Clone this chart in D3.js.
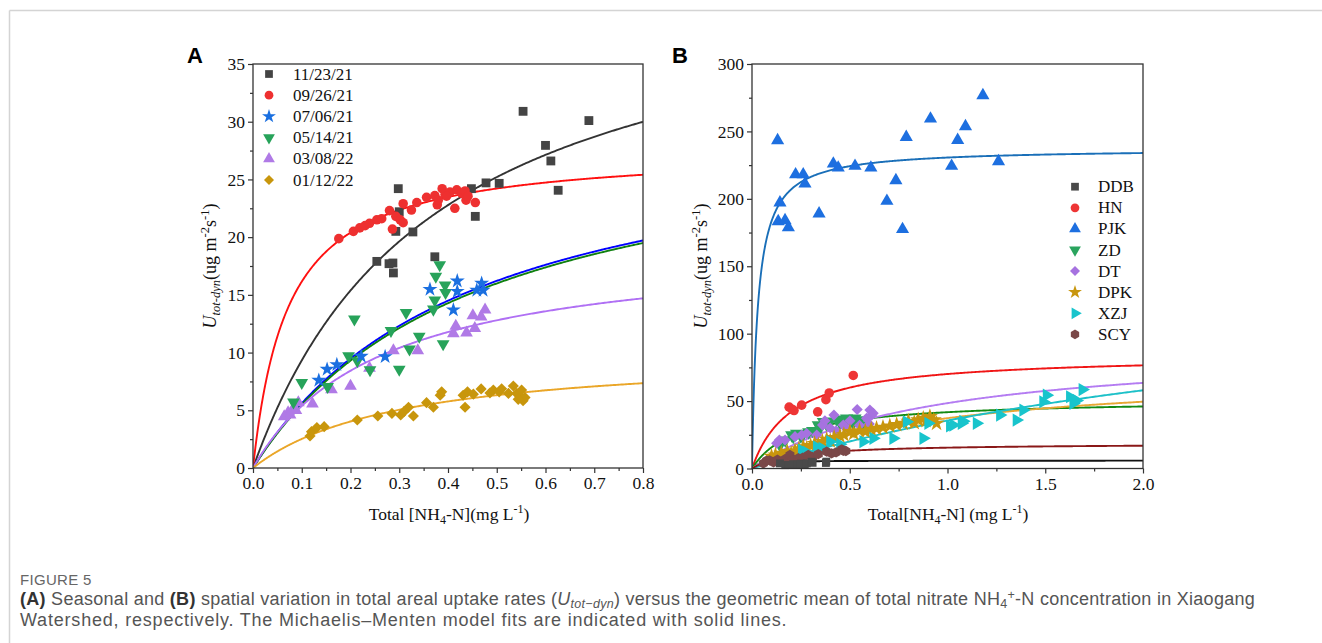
<!DOCTYPE html>
<html><head><meta charset="utf-8">
<script src="https://cdn.jsdelivr.net/npm/d3@7/dist/d3.min.js"></script>
<style>
html,body{margin:0;padding:0;background:#fff;}
svg{display:block;}
</style></head>
<body>
<svg id="chart" width="1322" height="643"></svg>
<script>
// ---------------- DATA ----------------
// Panel A: seasonal (x = total NH4-N mg/L, y = U tot-dyn)
const seasonNames = ["11/23/21","09/26/21","07/06/21","05/14/21","03/08/22","01/12/22"];
const s1123 = [[0.554,30.9],[0.689,30.1],[0.600,27.95],[0.611,26.6],[0.626,24.06],[0.505,24.66],[0.478,24.7],[0.448,24.2],[0.456,21.8],[0.298,24.2],[0.300,22.2],[0.293,20.5],[0.328,20.45],[0.254,17.9],[0.279,17.7],[0.287,17.76],[0.288,16.9],[0.373,18.3]];
const s0926 = [[0.176,19.87],[0.206,20.5],[0.219,20.8],[0.230,21.0],[0.239,21.2],[0.254,21.5],[0.264,21.6],[0.280,22.3],[0.286,20.7],[0.293,21.8],[0.302,21.5],[0.308,21.25],[0.308,22.9],[0.325,22.35],[0.336,23.0],[0.356,23.45],[0.373,23.6],[0.378,22.8],[0.388,24.2],[0.394,23.7],[0.404,23.9],[0.414,22.5],[0.418,24.1],[0.428,23.8],[0.435,24.0],[0.437,23.2],[0.441,23.55],[0.456,23.0],[0.397,23.55],[0.380,23.2]];
const s0706 = [[0.363,15.48],[0.419,16.2],[0.419,15.3],[0.411,13.7],[0.469,16.0],[0.459,15.4],[0.472,15.4],[0.135,7.6],[0.152,8.55],[0.172,8.95],[0.222,9.68],[0.271,9.65]];
const s0514 = [[0.383,17.6],[0.375,16.6],[0.394,15.85],[0.395,15.2],[0.373,14.55],[0.370,13.75],[0.314,13.45],[0.208,12.9],[0.283,11.9],[0.341,11.4],[0.390,10.75],[0.321,10.3],[0.300,8.55],[0.196,9.7],[0.214,9.27],[0.240,8.5],[0.100,7.4],[0.153,7.05],[0.083,5.7]];
const s0308 = [[0.476,13.7],[0.468,13.1],[0.451,13.2],[0.416,12.3],[0.455,12.1],[0.438,11.7],[0.411,11.65],[0.338,10.17],[0.288,10.17],[0.239,8.66],[0.200,7.1],[0.161,6.8],[0.122,5.55],[0.093,5.66],[0.083,5.2],[0.072,4.8],[0.064,4.45],[0.088,5.0],[0.076,4.6]];
const s0112 = [[0.117,2.77],[0.120,3.15],[0.131,3.5],[0.146,3.58],[0.214,4.16],[0.256,4.5],[0.285,4.73],[0.303,4.6],[0.319,5.26],[0.310,4.9],[0.329,4.5],[0.356,5.66],[0.370,5.26],[0.384,6.3],[0.387,6.6],[0.431,6.3],[0.435,5.26],[0.440,6.6],[0.452,6.4],[0.468,6.85],[0.486,6.5],[0.493,6.75],[0.505,6.6],[0.510,6.87],[0.524,6.46],[0.534,7.1],[0.541,6.46],[0.548,6.2],[0.551,6.75],[0.554,5.83],[0.558,6.1],[0.544,5.95]];
// Michaelis-Menten fit parameters [Umax, K] per season
const seasonFits = [[43.9,0.371],[27.67,0.0714],[30.8,0.45],[30.7,0.46],[19.55,0.264],[10.12,0.302]];

// Panel B: spatial
const siteNames = ["DDB","HN","PJK","ZD","DT","DPK","XZJ","SCY"];
const sDDB = [[0.143,3.8],[0.170,2.5],[0.186,2.6],[0.210,3.2],[0.230,2.8],[0.250,3.6],[0.270,3.0],[0.280,3.8],[0.305,5.0],[0.310,4.2],[0.378,4.1],[0.380,5.1]];
const sHN = [[0.190,45.5],[0.205,44],[0.215,43],[0.254,47],[0.336,42],[0.378,51],[0.395,56],[0.518,69]];
const sPJK = [[0.131,243.3],[0.143,197.2],[0.134,183.3],[0.169,184],[0.186,178.7],[0.223,218],[0.262,218],[0.271,211.2],[0.343,189],[0.416,226],[0.441,223],[0.527,224.3],[0.608,223],[0.690,198.4],[0.736,213.7],[0.770,177.4],[0.789,245.8],[0.913,259.4],[1.021,224.3],[1.052,243.5],[1.092,253.7],[1.181,276.7],[1.261,227.8]];
const sZD = [[0.143,17.4],[0.170,21],[0.203,24.8],[0.211,23.6],[0.228,26],[0.250,24],[0.262,25.5],[0.290,27],[0.310,28],[0.339,32.2],[0.348,30],[0.365,34.7],[0.380,33],[0.400,35],[0.433,36.4],[0.450,34],[0.470,35.5],[0.484,37.2],[0.501,36],[0.518,33.5],[0.527,37.2],[0.550,36],[0.569,32.2]];
const sDT = [[0.126,18.7],[0.140,21.1],[0.169,21.1],[0.220,23.6],[0.254,24.8],[0.280,26],[0.331,24.8],[0.361,32.2],[0.373,35.4],[0.400,30],[0.419,39.6],[0.430,28],[0.467,32.2],[0.480,30],[0.501,35.4],[0.538,43.8],[0.550,32],[0.586,37.2],[0.600,33],[0.603,43.3],[0.612,39.6],[0.620,41]];
const sDPK = [[0.100,9],[0.120,10],[0.150,11.2],[0.180,12.5],[0.200,11],[0.220,13],[0.240,14.5],[0.262,16.1],[0.280,15],[0.300,17],[0.320,18.5],[0.340,17.5],[0.360,20],[0.382,21.6],[0.400,20.5],[0.420,23],[0.450,24],[0.470,25],[0.501,27.3],[0.520,26],[0.550,28],[0.580,27.5],[0.610,29],[0.637,29.7],[0.670,30.5],[0.705,31.5],[0.740,32.5],[0.774,33.5],[0.800,35],[0.830,34],[0.850,36],[0.876,37.2],[0.890,35.5],[0.910,38.4],[0.930,36],[0.944,33.5]];
const sXZJ = [[0.254,13.7],[0.280,12],[0.331,16.1],[0.360,15],[0.399,19.9],[0.450,18],[0.569,19.9],[0.620,22.4],[0.722,22.4],[0.791,34.7],[0.876,22.4],[0.901,33.5],[1.012,31.5],[1.029,32.2],[1.072,33.5],[1.080,35],[1.149,33.5],[1.268,39.6],[1.353,35.9],[1.387,43.3],[1.489,49.5],[1.507,54.4],[1.626,53.2],[1.643,48.3],[1.660,50.5],[1.690,58.5]];
const sSCY = [[0.058,3.8],[0.075,5.8],[0.090,6],[0.110,4.5],[0.130,6.5],[0.150,5],[0.170,7],[0.194,10],[0.210,6.5],[0.237,7.6],[0.260,8],[0.288,10],[0.310,8.5],[0.339,10.7],[0.382,12.5],[0.407,11.2],[0.430,12],[0.459,14.2],[0.467,13.2],[0.480,13]];
const siteFits = [[5.9,0.03],[84.2,0.2017],[237.4,0.0294],[51.2,0.226],[92,0.898],[73.6,0.972],[156.9,3.41],[18.64,0.206]];

// ticks
const xTicksA = [0,0.1,0.2,0.3,0.4,0.5,0.6,0.7,0.8];
const yTicksA = [0,5,10,15,20,25,30,35];
const xTicksB = [0,0.5,1.0,1.5,2.0];
const yTicksB = [0,50,100,150,200,250,300];

// ---------------- DRAW ----------------
const svg = d3.select("#chart");
const serif = "'Liberation Serif','Times New Roman',serif";

// page frame
svg.append("line").attr("x1",9.5).attr("x2",1322).attr("y1",10.5).attr("y2",10.5).attr("stroke","#d4d4d4").attr("stroke-width",1.5);
svg.append("line").attr("x1",9.5).attr("x2",9.5).attr("y1",10.5).attr("y2",643).attr("stroke","#d4d4d4").attr("stroke-width",1.5);

const hexType = {draw(ctx,size){const r=Math.sqrt(size/(1.5*Math.sqrt(3)));for(let i=0;i<6;i++){const a=Math.PI/3*i+Math.PI/6;const x=r*Math.cos(a),y=r*Math.sin(a);if(i===0)ctx.moveTo(x,y);else ctx.lineTo(x,y);}ctx.closePath();}};

function marker(g, kind, size, color, x, y){
  let type, rot=0;
  if(kind==="square") type=d3.symbolSquare;
  else if(kind==="circle") type=d3.symbolCircle;
  else if(kind==="star") type=d3.symbolStar;
  else if(kind==="tri") type=d3.symbolTriangle;
  else if(kind==="tridown"){type=d3.symbolTriangle;rot=180;}
  else if(kind==="triright"){type=d3.symbolTriangle;rot=90;}
  else if(kind==="diamond"){type=d3.symbolSquare;rot=45;}
  else if(kind==="hex") type=hexType;
  g.append("path").attr("d",d3.symbol().type(type).size(size)())
    .attr("transform",`translate(${x},${y}) rotate(${rot})`).attr("fill",color);
}

function panel(opt){
  const {x0,x1,y0,y1,xdom,ydom,xticks,yticks,xminor,yminor,xfmt,yfmt} = opt;
  const x = d3.scaleLinear().domain(xdom).range([x0,x1]);
  const y = d3.scaleLinear().domain(ydom).range([y0,y1]);
  const g = svg.append("g");
  const clipId = "clip"+opt.id;
  svg.append("clipPath").attr("id",clipId).append("rect").attr("x",x0).attr("y",y1).attr("width",x1-x0).attr("height",y0-y1);
  const cg = g.append("g").attr("clip-path",`url(#${clipId})`);
  const xs = d3.range(0,401).map(i=>xdom[0]+(xdom[1]-xdom[0])*Math.pow(i/400,1.6));
  opt.series.forEach(s=>{
    const [um,k]=s.fit;
    cg.append("path").attr("d",d3.line().x(v=>x(v)).y(v=>y(um*v/(k+v)))(xs))
      .attr("fill","none").attr("stroke",s.line).attr("stroke-width",s.lw||2);
  });
  const pg = g.append("g");
  opt.pointOrder.forEach(i=>{
    const s=opt.series[i];
    s.data.forEach(d=>marker(pg,s.kind,s.size,s.color,x(d[0]),y(d[1])));
  });
  const ax = g.append("g").attr("transform",`translate(0,${y0})`)
    .call(d3.axisBottom(x).tickValues(xticks).tickFormat(xfmt).tickSize(5).tickPadding(4));
  const axm = g.append("g").attr("transform",`translate(0,${y0})`)
    .call(d3.axisBottom(x).tickValues(xminor).tickFormat("").tickSize(3));
  const ay = g.append("g").attr("transform",`translate(${x0},0)`)
    .call(d3.axisLeft(y).tickValues(yticks).tickFormat(yfmt).tickSize(5).tickPadding(3));
  const aym = g.append("g").attr("transform",`translate(${x0},0)`)
    .call(d3.axisLeft(y).tickValues(yminor).tickFormat("").tickSize(3));
  [ax,axm,ay,aym].forEach(a=>{
    a.select(".domain").remove();
    a.selectAll("line").attr("stroke","#333").attr("stroke-width",1.2);
    a.selectAll("text").attr("font-family",serif).attr("font-size",17.5).attr("fill","#111");
  });
  g.append("rect").attr("x",x0).attr("y",y1).attr("width",x1-x0).attr("height",y0-y1)
    .attr("fill","none").attr("stroke","#333").attr("stroke-width",1.3);
  return {x,y,g};
}

// ---- Panel A ----
const seasonStyles = [
  {kind:"square",size:78,color:"#444444",line:"#333333"},
  {kind:"circle",size:72,color:"#ee3030",line:"#ff1010"},
  {kind:"star",size:70,color:"#1a6fe0",line:"#0000ff"},
  {kind:"tridown",size:70,color:"#27a35a",line:"#108010"},
  {kind:"tri",size:70,color:"#b07ae6",line:"#b070f4"},
  {kind:"diamond",size:62,color:"#c8960c",line:"#eaa628"}
];
const seasonData = [s1123,s0926,s0706,s0514,s0308,s0112];
const seriesA = seasonStyles.map((s,i)=>Object.assign({},s,{data:seasonData[i],fit:seasonFits[i],lw:1.9}));
const fmt1 = d3.format(".1f");
const A = panel({id:"A",x0:253,x1:643,y0:468,y1:64,xdom:[0,0.8],ydom:[0,35],
  xticks:xTicksA,yticks:yTicksA,xminor:d3.range(0.05,0.8,0.1),yminor:d3.range(2.5,35,5),
  xfmt:fmt1,yfmt:d3.format("d"),series:seriesA,pointOrder:[0,1,4,3,2,5]});

const legA = svg.append("g");
seasonNames.forEach((n,i)=>{
  const yy = 74 + i*21.2;
  marker(legA,seasonStyles[i].kind,seasonStyles[i].kind==="diamond"?50:60,seasonStyles[i].color,269,yy);
  legA.append("text").attr("x",293).attr("y",yy+5.5).text(n)
    .attr("font-family",serif).attr("font-size",17).attr("fill","#111");
});

// ---- Panel B ----
const siteStyles = [
  {kind:"square",size:62,color:"#4a4a4a",line:"#111111"},
  {kind:"circle",size:72,color:"#ee3535",line:"#f01515"},
  {kind:"tri",size:75,color:"#1d6fe0",line:"#1a6fb8"},
  {kind:"tridown",size:75,color:"#2aa45e",line:"#138a13"},
  {kind:"diamond",size:62,color:"#a672e0",line:"#b47cf2"},
  {kind:"star",size:80,color:"#c8960e",line:"#e8a734"},
  {kind:"triright",size:75,color:"#18c4cc",line:"#1cc0c8"},
  {kind:"hex",size:70,color:"#7a4848",line:"#8a1818"}
];
const siteData = [sDDB,sHN,sPJK,sZD,sDT,sDPK,sXZJ,sSCY];
const seriesB = siteStyles.map((s,i)=>Object.assign({},s,{data:siteData[i],fit:siteFits[i],lw:1.9}));
const B = panel({id:"B",x0:752,x1:1143,y0:468.5,y1:64,xdom:[0,2],ydom:[0,300],
  xticks:xTicksB,yticks:yTicksB,xminor:d3.range(0.25,2,0.5),yminor:d3.range(25,300,50),
  xfmt:fmt1,yfmt:d3.format("d"),series:seriesB,pointOrder:[2,1,3,4,5,6,7,0]});

const legB = svg.append("g");
siteNames.forEach((n,i)=>{
  const yy = 186.7 + i*21.1;
  marker(legB,siteStyles[i].kind,siteStyles[i].kind==="diamond"?50:60,siteStyles[i].color,1075,yy);
  legB.append("text").attr("x",1098).attr("y",yy+5.5).text(n)
    .attr("font-family",serif).attr("font-size",17).attr("fill","#111");
});

// ---- axis titles ----
function xTitle(cx, cy, spaced){
  const t = svg.append("text").attr("x",cx).attr("y",cy).attr("text-anchor","middle")
    .attr("font-family",serif).attr("font-size",17.5).attr("fill","#111");
  t.append("tspan").text(spaced?"Total [NH":"Total[NH");
  t.append("tspan").attr("dy",4).attr("font-size",12).text("4");
  t.append("tspan").attr("dy",-4).text(spaced?"-N](mg L":"-N] (mg L");
  t.append("tspan").attr("dy",-7).attr("font-size",12).text("-1");
  t.append("tspan").attr("dy",7).text(")");
}
xTitle(449,520,true);
xTitle(948,520,false);

function yTitle(cx, cy){
  const t = svg.append("text").attr("transform",`translate(${cx},${cy}) rotate(-90)`)
    .attr("text-anchor","middle").attr("font-family",serif).attr("font-size",18).attr("fill","#111");
  t.append("tspan").attr("font-style","italic").text("U");
  t.append("tspan").attr("font-style","italic").attr("dy",4).attr("font-size",12.5).text("tot-dyn");
  t.append("tspan").attr("dy",-4).text("(ug m");
  t.append("tspan").attr("dy",-7).attr("font-size",12.5).text("-2");
  t.append("tspan").attr("dy",7).text("s");
  t.append("tspan").attr("dy",-7).attr("font-size",12.5).text("-1");
  t.append("tspan").attr("dy",7).text(")");
}
yTitle(216,266);
yTitle(707,266);

svg.append("text").attr("x",187).attr("y",63).text("A").attr("font-family","'Liberation Sans',Arial,sans-serif")
  .attr("font-weight","bold").attr("font-size",22).attr("fill","#000");
svg.append("text").attr("x",672).attr("y",63).text("B").attr("font-family","'Liberation Sans',Arial,sans-serif")
  .attr("font-weight","bold").attr("font-size",22).attr("fill","#000");

// ---- caption ----
const capFont = "'Liberation Sans',Arial,sans-serif";
const capSize = 18;
svg.append("text").attr("x",20).attr("y",584.5).text("FIGURE 5")
  .attr("font-family",capFont).attr("font-size",15).attr("fill","#666").attr("letter-spacing",0.3);
const c1 = svg.append("text").attr("x",20).attr("y",604.5).attr("font-family",capFont).attr("font-size",capSize)
  .attr("fill","#555").attr("letter-spacing",0.28);
c1.append("tspan").attr("font-weight","bold").attr("fill","#333").text("(A)");
c1.append("tspan").text(" Seasonal and ");
c1.append("tspan").attr("font-weight","bold").attr("fill","#333").text("(B)");
c1.append("tspan").text(" spatial variation in total areal uptake rates (");
c1.append("tspan").attr("font-style","italic").text("U");
c1.append("tspan").attr("font-style","italic").attr("font-size",12.5).attr("dy",3).text("tot−dyn");
c1.append("tspan").attr("dy",-3).text(") versus the geometric mean of total nitrate NH");
c1.append("tspan").attr("font-size",12.5).attr("dy",3).text("4");
c1.append("tspan").attr("font-size",12.5).attr("dy",-9).text("+");
c1.append("tspan").attr("dy",6).text("-N concentration in Xiaogang");
svg.append("text").attr("x",20).attr("y",625.5).attr("font-family",capFont).attr("font-size",capSize).attr("fill","#555")
  .attr("letter-spacing",0.8)
  .text("Watershed, respectively. The Michaelis–Menten model fits are indicated with solid lines.");
</script>
</body></html>
